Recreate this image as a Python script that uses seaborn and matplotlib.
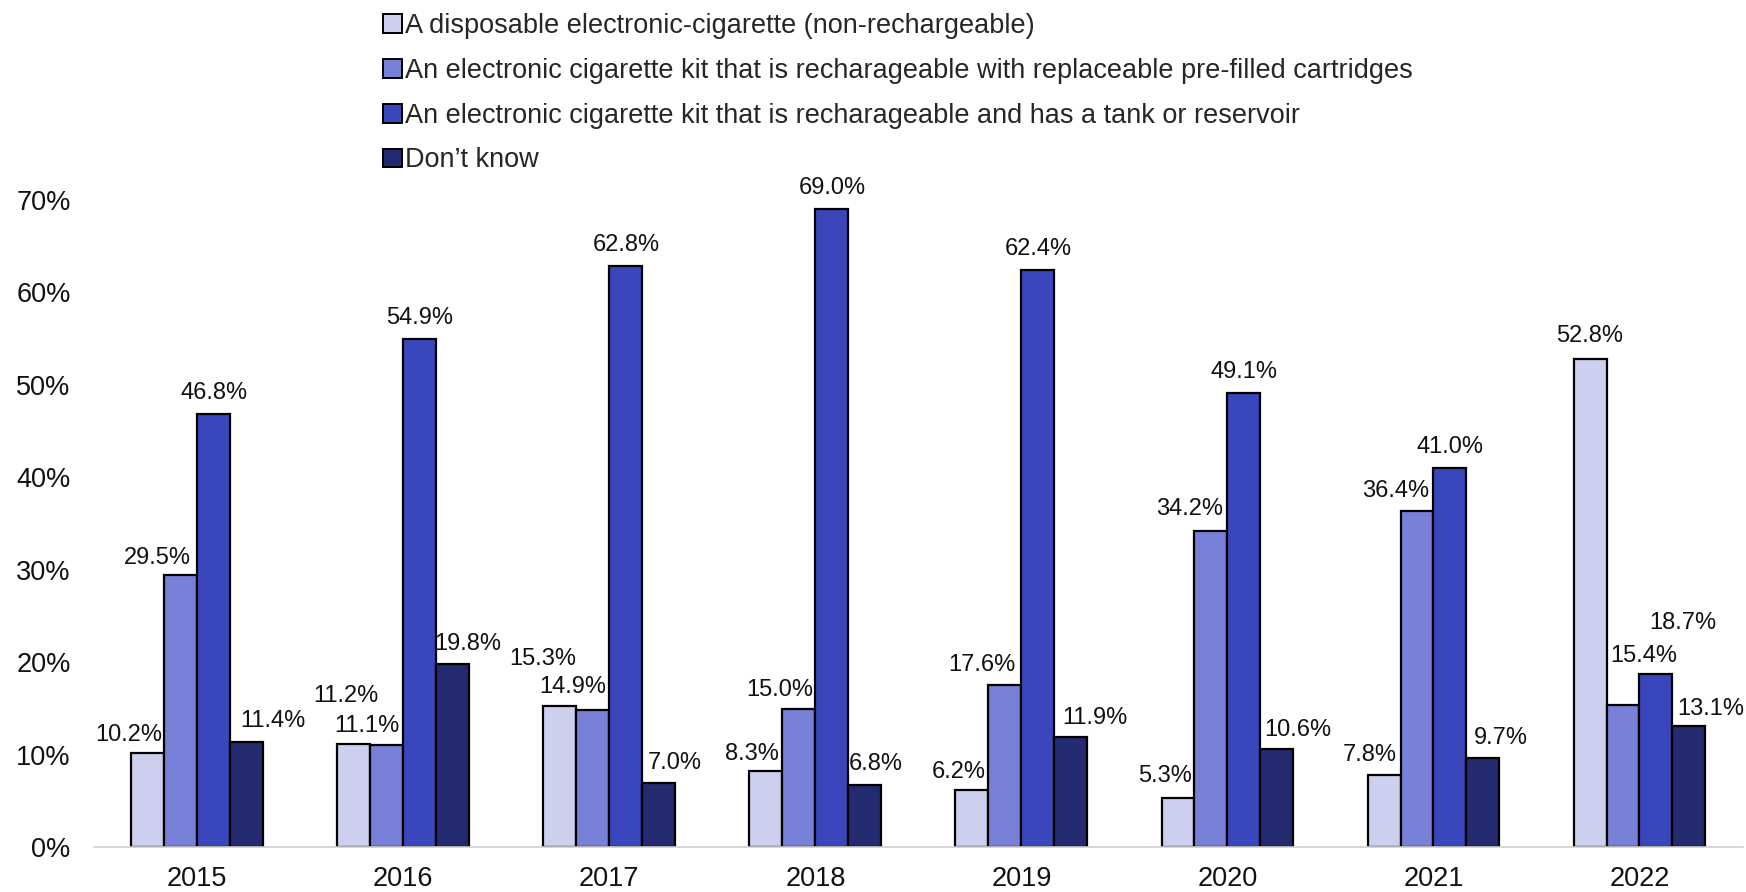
import matplotlib
matplotlib.use("Agg")
import matplotlib.pyplot as plt
import pandas as pd
import seaborn as sns

years = ["2015", "2016", "2017", "2018", "2019", "2020", "2021", "2022"]
series = [
    "A disposable electronic-cigarette (non-rechargeable)",
    "An electronic cigarette kit that is recharageable with replaceable pre-filled cartridges",
    "An electronic cigarette kit that is recharageable and has a tank or reservoir",
    "Don\u2019t know",
]
disposable = [10.2, 11.2, 15.3, 8.3, 6.2, 5.3, 7.8, 52.8]
cartridges = [29.5, 11.1, 14.9, 15.0, 17.6, 34.2, 36.4, 15.4]
tank = [46.8, 54.9, 62.8, 69.0, 62.4, 49.1, 41.0, 18.7]
dont_know = [11.4, 19.8, 7.0, 6.8, 11.9, 10.6, 9.7, 13.1]

colors = ["#CCCFEE", "#7780D6", "#3A47BC", "#232A70"]

# label nudges in pixels (dx, dy above bar top), mimicking the Excel layout
nudges = [
    [(-19, 18), (-8, 48), (-17, 47), (-14, 17), (-13, 18), (-13, 22), (-14, 20), (0, 23)],
    [(-23, 17), (-20, 19), (-20, 23), (-19, 19), (-23, 20), (-21, 22), (-21, 20), (21, 49)],
    [(0, 21), (0, 21), (0, 21), (0, 21), (0, 21), (0, 21), (0, 21), (27, 51)],
    [(26, 21), (15, 20), (16, 20), (11, 21), (24, 19), (21, 19), (18, 20), (22, 17)],
]

values = [disposable, cartridges, tank, dont_know]
df = pd.DataFrame(
    [(y, s, v[i] / 100) for s, v in zip(series, values) for i, y in enumerate(years)],
    columns=["year", "type", "share"],
)

sns.set_style("white")
plt.rcParams["font.family"] = ["Liberation Sans", "DejaVu Sans"]

fig = plt.figure(figsize=(17.46, 8.92), dpi=100)
ax = fig.add_axes([0.054, 0.0499, 0.944, 0.7262])

sns.barplot(
    data=df, x="year", y="share", hue="type", hue_order=series, order=years,
    palette=colors, width=0.64, edgecolor="black", linewidth=1.6,
    saturation=1, ax=ax, legend=False,
)

for cont, nd in zip(ax.containers, nudges):
    for bar, (dx, dy) in zip(cont, nd):
        h = bar.get_height()
        ax.annotate(f"{h * 100:.1f}%", (bar.get_x() + bar.get_width() / 2, h),
                    xytext=(dx, dy), textcoords="offset pixels",
                    ha="center", va="center", fontsize=17, color="#111111")

ax.set_ylim(0, 0.7)
ax.set_yticks([i / 10 for i in range(8)])
ax.set_yticklabels([f"{i * 10}%" for i in range(8)])
ax.set_xlim(-0.5, len(years) - 0.5)
ax.set_xlabel("")
ax.set_ylabel("")
ax.tick_params(axis="both", length=0, labelsize=19.5, colors="#111111")
ax.tick_params(axis="y", pad=17)
ax.tick_params(axis="x", pad=13)
for s in ["left", "top", "right"]:
    ax.spines[s].set_visible(False)
ax.spines["bottom"].set_color("#D0D0D0")
ax.spines["bottom"].set_linewidth(1.2)
ax.grid(False)

handles = [plt.Rectangle((0, 0), 1, 1, facecolor=c, edgecolor="black", linewidth=1.4) for c in colors]
fig.legend(handles, series, loc="upper left", bbox_to_anchor=(0.213, 0.998),
           frameon=False, fontsize=19.5, handlelength=0.7, handleheight=0.7,
           handletextpad=0.12, labelspacing=0.7, borderaxespad=0)

fig.savefig("out.png", dpi=100)
